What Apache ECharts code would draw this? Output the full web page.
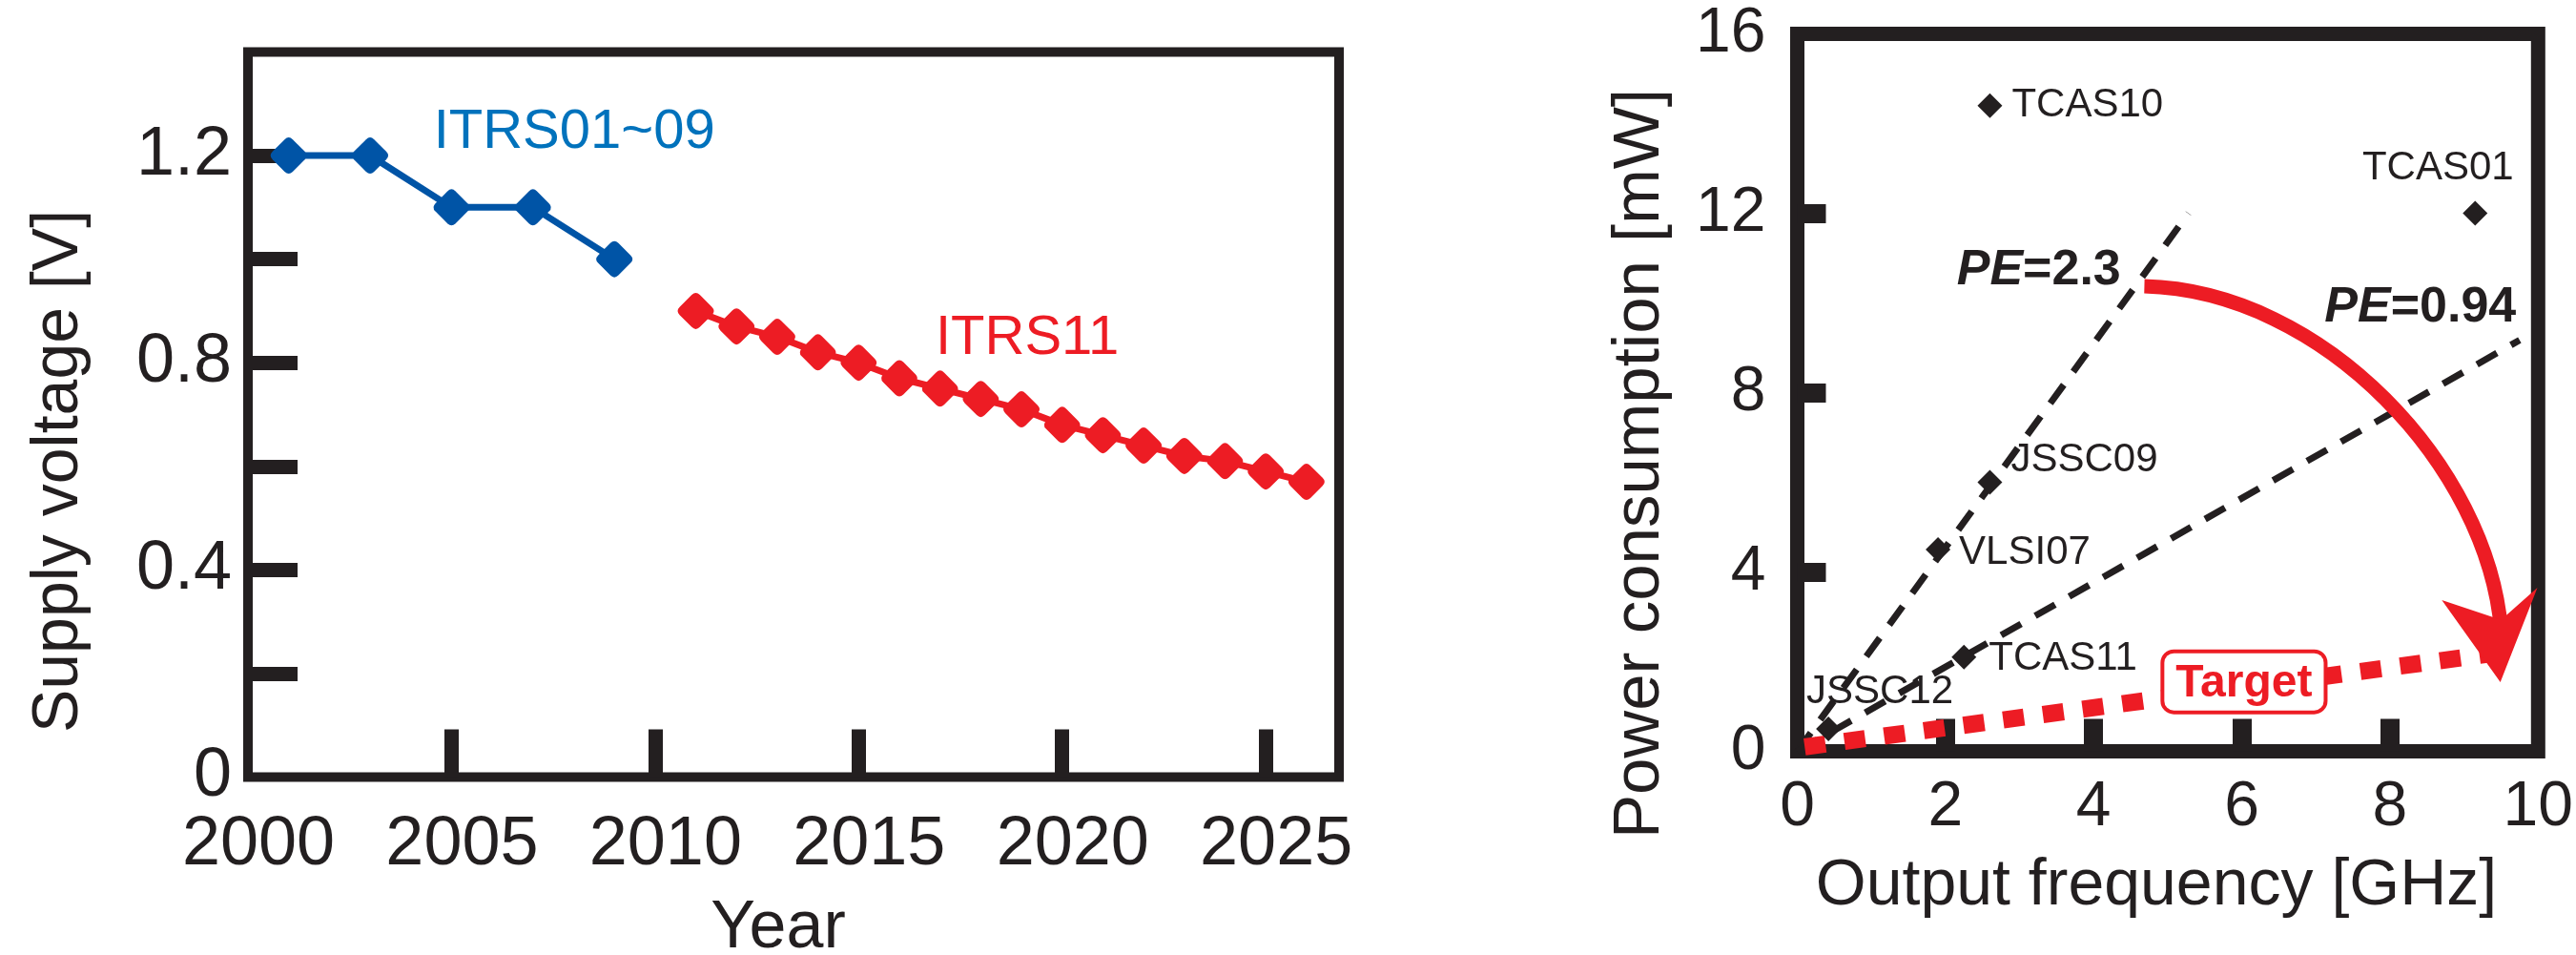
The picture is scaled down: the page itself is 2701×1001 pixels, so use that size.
<!DOCTYPE html>
<html><head><meta charset="utf-8">
<script src="https://cdn.jsdelivr.net/npm/echarts@6/dist/echarts.min.js"></script>
<style>html,body{margin:0;padding:0;background:#fff}#c{width:2701px;height:1001px}</style>
</head><body><div id="c"></div>
<script>
// ---- left chart data ----
const yearsA = [2001, 2003, 2005, 2007, 2009];
const vddA = [1.2, 1.2, 1.1, 1.1, 1.0];
const yearsB = [2011, 2012, 2013, 2014, 2015, 2016, 2017, 2018, 2019, 2020, 2021, 2022, 2023, 2024, 2025, 2026];
const vddB = [0.90, 0.87, 0.85, 0.82, 0.80, 0.77, 0.75, 0.73, 0.71, 0.68, 0.66, 0.64, 0.62, 0.61, 0.59, 0.57];
const yearTicks = [2005, 2010, 2015, 2020, 2025];
const yearLabels = [2000, 2005, 2010, 2015, 2020, 2025];
const vddTicks = [0.2, 0.4, 0.6, 0.8, 1.0, 1.2];
const vddLabels = [0, 0.4, 0.8, 1.2];
const nameA = 'ITRS01~09';
const nameB = 'ITRS11';
const nameAAt = [2004.56, 1.245];
const nameBAt = [2016.89, 0.847];

// ---- right chart data ----
const works = ['TCAS10', 'TCAS01', 'JSSC09', 'VLSI07', 'TCAS11', 'JSSC12'];
const freqGHz = [2.6, 9.15, 2.6, 1.9, 2.25, 0.42];
const powerMW = [14.4, 12.0, 6.0, 4.5, 2.1, 0.5];
const freqTicks = [2, 4, 6, 8];
const freqLabels = [0, 2, 4, 6, 8, 10];
const powerTicks = [4, 8, 12];
const powerLabels = [0, 4, 8, 12, 16];
const peLineHigh = [[0, 0], [5.28, 12.0]];
const peLineLow = [[0, 0], [9.75, 9.17]];
const targetLine = [[0.1, 0.1], [9.7, 2.25]];
// arrow arc: start, control 1, control 2, end (data units)
const arrowArc = [[4.685, 10.37], [7.11, 10.27], [9.32, 6.33], [9.50, 2.71]];
const arrowHead = [[8.70, 3.37], [9.50, 2.93], [9.99, 3.65], [9.49, 1.54]];
const peHighText = '2.3';
const peLowText = '0.94';
const peHighAt = [3.26, 10.72];
const peLowAt = [8.41, 9.88];
const targetText = 'Target';
const targetAt = [6.03, 1.55];

// ---- styles ----
const INK = '#231F20';
const BLUE = '#0054A6';
const BLUE_TXT = '#0072BC';
const RED = '#ED1C24';
const FONT = '"Liberation Sans", Arial, Helvetica, sans-serif';
const roundDiamond = 'path://M40,10 Q50,0 60,10 L90,40 Q100,50 90,60 L60,90 Q50,100 40,90 L10,60 Q0,50 10,40 Z';
const labelPlacement = {
  TCAS10: {position: 'right', distance: 10},
  TCAS01: {position: 'top', distance: 13, offset: [-39, 0]},
  JSSC09: {position: 'right', distance: 9, offset: [0, -23]},
  VLSI07: {position: 'right', distance: 9, offset: [0, 3]},
  TCAS11: {position: 'right', distance: 13, offset: [0, 2]},
  JSSC12: {position: 'top', distance: 5, offset: [54, 0]}
};

const chart = echarts.init(document.getElementById('c'), null, {renderer: 'canvas'});

const option = {
  animation: false,
  backgroundColor: '#fff',
  grid: [
    {left: 260, top: 54.5, right: 1297, bottom: 186.5, show: true, borderWidth: 10, borderColor: INK, backgroundColor: 'transparent', containLabel: false},
    {left: 1884.5, top: 35.5, right: 21.5, bottom: 213.5, show: true, borderWidth: 15, borderColor: INK, backgroundColor: 'transparent', containLabel: false}
  ],
  xAxis: [
    {
      type: 'value', gridIndex: 0, min: 2000, max: 2026.8, interval: 5,
      axisLine: {show: false}, splitLine: {show: false},
      axisTick: {show: true, inside: true, length: 50, lineStyle: {width: 15, color: INK}, customValues: yearTicks},
      axisLabel: {customValues: yearLabels, fontSize: 72, fontFamily: FONT, color: INK, margin: 36, hideOverlap: false,
        padding: [0, 0, 0, 22], formatter: v => String(Math.round(v))}
    },
    {
      type: 'value', gridIndex: 1, min: 0, max: 10, interval: 2,
      axisLine: {show: false}, splitLine: {show: false},
      axisTick: {show: true, inside: true, length: 34, lineStyle: {width: 20, color: INK}, customValues: freqTicks},
      axisLabel: {customValues: freqLabels, fontSize: 66, fontFamily: FONT, color: INK, margin: 26, hideOverlap: false}
    }
  ],
  yAxis: [
    {
      type: 'value', gridIndex: 0, min: 0, max: 1.4, interval: 0.2,
      axisLine: {show: false}, splitLine: {show: false},
      axisTick: {show: true, inside: true, length: 52, lineStyle: {width: 15, color: INK}, customValues: vddTicks},
      axisLabel: {customValues: vddLabels, fontSize: 72, fontFamily: FONT, color: INK, margin: 17, hideOverlap: false,
        formatter: v => (v === 0 ? '0' : v.toFixed(1))}
    },
    {
      type: 'value', gridIndex: 1, min: 0, max: 16, interval: 4,
      axisLine: {show: false}, splitLine: {show: false},
      axisTick: {show: true, inside: true, length: 30, lineStyle: {width: 20, color: INK}, customValues: powerTicks},
      axisLabel: {customValues: powerLabels, fontSize: 66, fontFamily: FONT, color: INK, margin: 33, hideOverlap: false}
    }
  ],
  series: [
    {
      type: 'line', xAxisIndex: 0, yAxisIndex: 0, z: 3,
      data: yearsA.map((y, i) => [y, vddA[i]]),
      symbol: roundDiamond, symbolSize: 38, showAllSymbol: true,
      lineStyle: {color: BLUE, width: 7}, itemStyle: {color: BLUE, opacity: 1}
    },
    {
      type: 'line', xAxisIndex: 0, yAxisIndex: 0, z: 3,
      data: yearsB.map((y, i) => [y, vddB[i]]),
      symbol: roundDiamond, symbolSize: 38, showAllSymbol: true,
      lineStyle: {color: RED, width: 7}, itemStyle: {color: RED, opacity: 1}
    },
    {
      type: 'scatter', xAxisIndex: 0, yAxisIndex: 0, z: 4, silent: true,
      symbolSize: 1, itemStyle: {color: 'rgba(0,0,0,0)', opacity: 1},
      data: [
        {value: nameAAt, label: {show: true, formatter: nameA, color: BLUE_TXT}},
        {value: nameBAt, label: {show: true, formatter: nameB, color: RED}}
      ],
      label: {show: true, position: 'inside', align: 'left', verticalAlign: 'middle', fontSize: 58, fontFamily: FONT, opacity: 1}
    },
    // right chart
    {
      type: 'line', xAxisIndex: 1, yAxisIndex: 1, z: 2, data: peLineHigh, symbol: 'none',
      lineStyle: {color: INK, width: 7, type: [24, 17]}
    },
    {
      type: 'line', xAxisIndex: 1, yAxisIndex: 1, z: 2, data: peLineLow, symbol: 'none',
      lineStyle: {color: INK, width: 7, type: [24, 17]}
    },
    {
      type: 'line', xAxisIndex: 1, yAxisIndex: 1, z: 3, data: targetLine, symbol: 'none', clip: false,
      lineStyle: {color: RED, width: 18, type: [22, 20]}
    },
    {
      type: 'scatter', xAxisIndex: 1, yAxisIndex: 1, z: 4,
      symbol: 'diamond', symbolSize: 26, itemStyle: {color: INK, opacity: 1},
      data: works.map((w, i) => ({name: w, value: [freqGHz[i], powerMW[i]], label: labelPlacement[w]})),
      label: {show: true, formatter: '{b}', fontSize: 42, fontFamily: FONT, color: INK, opacity: 1}
    },
    {
      type: 'custom', xAxisIndex: 1, yAxisIndex: 1, z: 5, clip: false,
      data: [arrowArc[0]],
      renderItem: (params, api) => {
        const p = arrowArc.map(q => api.coord(q));
        return {
          type: 'bezierCurve',
          shape: {x1: p[0][0], y1: p[0][1], cpx1: p[1][0], cpy1: p[1][1], cpx2: p[2][0], cpy2: p[2][1], x2: p[3][0], y2: p[3][1]},
          style: {stroke: RED, lineWidth: 15, fill: null, lineCap: 'butt'}
        };
      }
    },
    {
      type: 'custom', xAxisIndex: 1, yAxisIndex: 1, z: 6, clip: false,
      data: [arrowHead[0]],
      renderItem: (params, api) => ({
        type: 'polygon',
        shape: {points: arrowHead.map(p => api.coord(p))},
        style: {fill: RED}
      })
    },
    {
      type: 'scatter', xAxisIndex: 1, yAxisIndex: 1, z: 7, silent: true,
      symbolSize: 1, itemStyle: {color: 'rgba(0,0,0,0)', opacity: 1},
      data: [
        {value: peHighAt, label: {formatter: '{i|PE}{b|=' + peHighText + '}'}},
        {value: peLowAt, label: {formatter: '{i|PE}{b|=' + peLowText + '}'}},
        {value: targetAt, label: {formatter: targetText, color: RED, fontWeight: 'bold', fontSize: 48,
          backgroundColor: '#fff', borderColor: RED, borderWidth: 4, borderRadius: 10, padding: [8, 12, 4, 12]}}
      ],
      label: {show: true, position: 'inside', fontFamily: FONT, color: INK, opacity: 1,
        rich: {
          i: {fontSize: 52, fontWeight: 'bold', fontStyle: 'italic', fontFamily: FONT, color: INK},
          b: {fontSize: 52, fontWeight: 'bold', fontFamily: FONT, color: INK}
        }}
    }
  ],
  graphic: [
    {type: 'text', x: 62, y: 494, rotation: Math.PI / 2,
      style: {text: 'Supply voltage [V]', fontSize: 68, fontFamily: FONT, fill: INK, align: 'center', verticalAlign: 'middle'}},
    {type: 'text', x: 816, y: 974,
      style: {text: 'Year', fontSize: 70, fontFamily: FONT, fill: INK, align: 'center', verticalAlign: 'middle'}},
    {type: 'text', x: 1720, y: 486, rotation: Math.PI / 2,
      style: {text: 'Power consumption [mW]', fontSize: 69, fontFamily: FONT, fill: INK, align: 'center', verticalAlign: 'middle'}},
    {type: 'text', x: 2261, y: 929,
      style: {text: 'Output frequency [GHz]', fontSize: 68, fontFamily: FONT, fill: INK, align: 'center', verticalAlign: 'middle'}}
  ]
};
chart.setOption(option);
</script>
</body></html>
